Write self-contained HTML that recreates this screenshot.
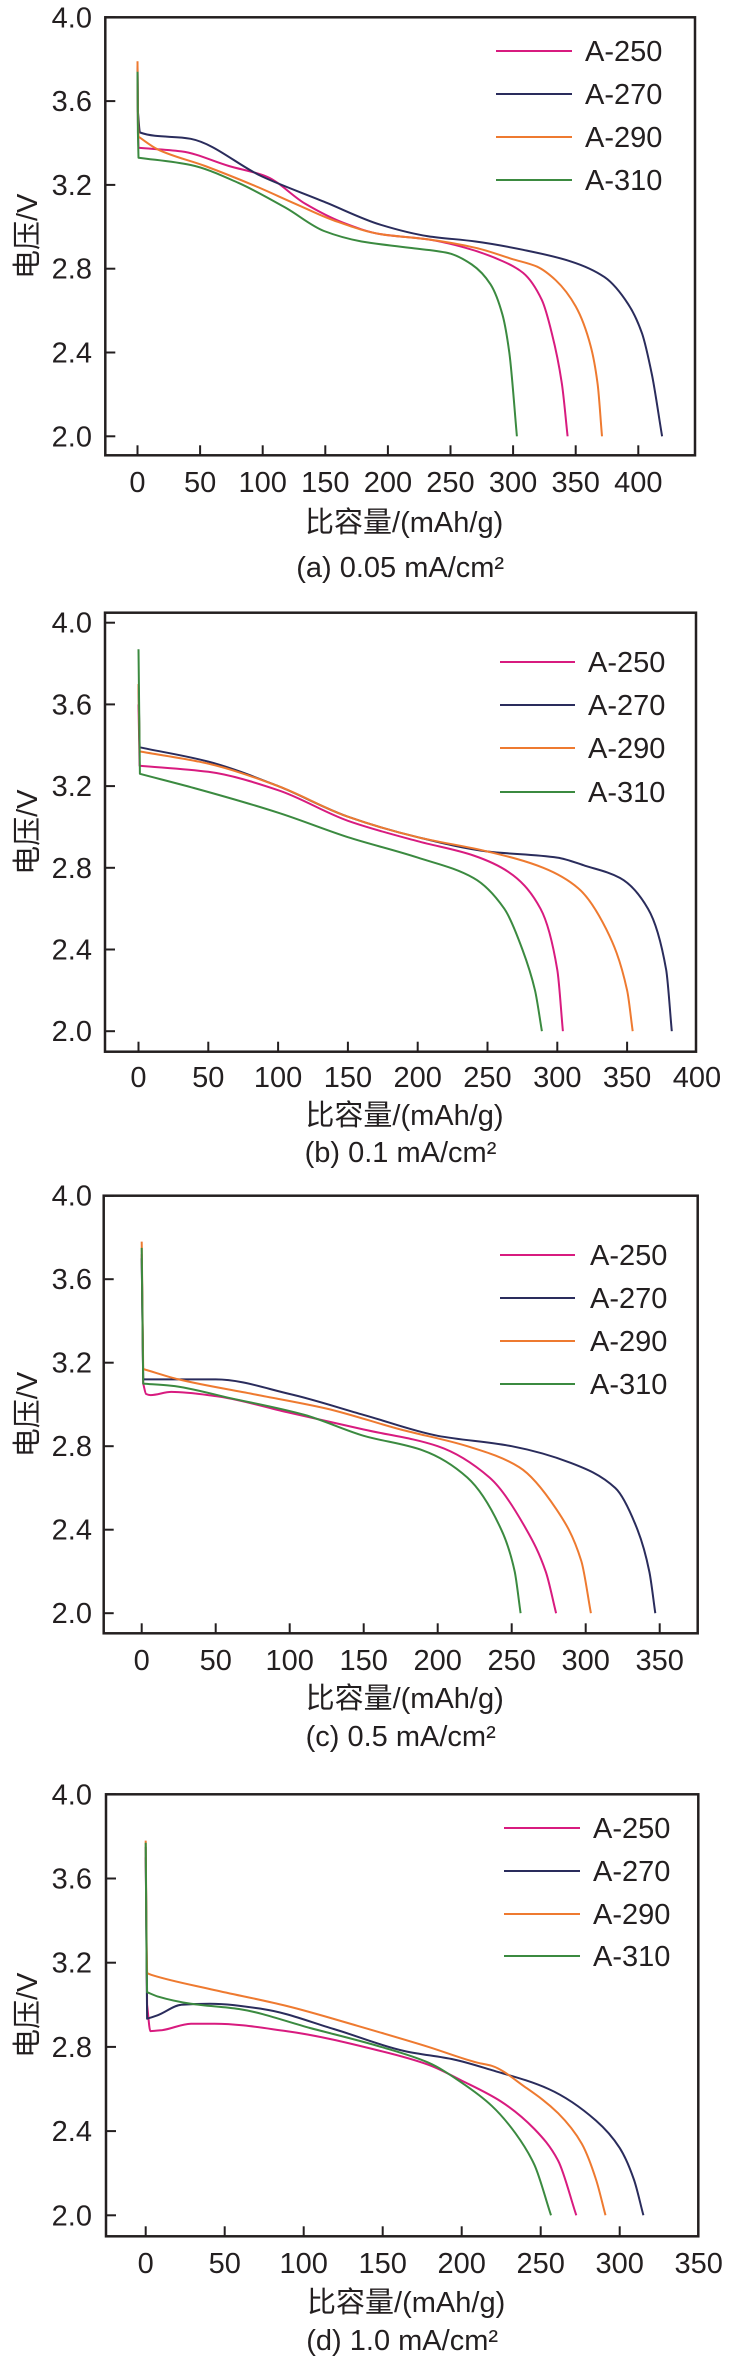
<!DOCTYPE html>
<html><head><meta charset="utf-8"><style>
html,body{margin:0;padding:0;background:#fff;}
svg text{font-family:"Liberation Sans","Noto Sans CJK SC",sans-serif;fill:#231f20;}
</style></head><body>
<svg id="s" width="747" height="2363" xmlns="http://www.w3.org/2000/svg"></svg>
<script>
var C={m:'#d81b7f',n:'#2a2c5c',o:'#ee7a30',g:'#3b8a40'};
var P=[
{L:105.3,R:695,T:17.3,B:455.3,x0:137.5,px50:62.6,y4:17.3,py04:83.8,xt:[0,50,100,150,200,250,300,350,400],xl:[0,50,100,150,200,250,300,350,400],tly:482,xly:522,cy:567,cap:'(a) 0.05 mA/cm²',leg:[51,94,137,180],lx:[496,572,585],
 s:{n:[[0,3.76],[0.3,3.55],[2,3.45],[42.5,3.42],[99.5,3.24],[149,3.12],[194,3.01],[232,2.955],[270,2.93],[308,2.89],[346,2.835],[373,2.76],[392,2.63],[403,2.49],[411,2.29],[419,2.0]],
    m:[[0,3.77],[0.3,3.5],[0.8,3.377],[35,3.36],[73,3.29],[103,3.24],[134,3.11],[164,3.02],[194,2.965],[232,2.94],[262,2.9],[292,2.835],[308,2.78],[323,2.65],[331,2.49],[339,2.25],[343.5,2.0]],
    o:[[0,3.79],[0.3,3.55],[0.8,3.43],[16,3.37],[54,3.29],[92,3.2],[126,3.11],[157,3.03],[194,2.965],[232,2.94],[270,2.9],[300,2.845],[319,2.81],[334,2.745],[350,2.62],[362,2.43],[367.5,2.25],[371,2.0]],
    g:[[0,3.74],[0.3,3.45],[0.8,3.33],[42.5,3.295],[80.5,3.21],[118.5,3.09],[149,2.98],[179,2.93],[217,2.9],[248,2.875],[267,2.82],[282,2.725],[291.5,2.58],[297,2.4],[303,2.0]]}},
{L:105,R:696,T:612.7,B:1051.7,x0:138.5,px50:69.8,y4:622.7,py04:81.7,xt:[0,50,100,150,200,250,300,350],xl:[0,50,100,150,200,250,300,350,400],tly:1077,xly:1115,cy:1152,cap:'(b) 0.1 mA/cm²',leg:[662,705,748,792],lx:[500,575,588],
 s:{n:[[0,3.7],[0.8,3.39],[50,3.32],[100,3.2],[150,3.05],[200,2.95],[250,2.88],[300,2.85],[320,2.81],[345,2.75],[365,2.6],[378,2.3],[382,2.0]],
    o:[[0,3.7],[0.8,3.37],[50,3.31],[100,3.2],[150,3.05],[200,2.95],[250,2.88],[290,2.8],[315,2.7],[335,2.5],[350,2.2],[354,2.0]],
    m:[[0,3.6],[0.8,3.30],[50,3.27],[100,3.18],[150,3.03],[200,2.93],[240,2.86],[265,2.78],[288,2.6],[300,2.3],[304,2.0]],
    g:[[0,3.87],[1,3.26],[40,3.19],[100,3.07],[150,2.95],[200,2.85],[240,2.75],[262,2.6],[275,2.4],[284,2.2],[289,2.0]]}},
{L:103.7,R:697.7,T:1195.7,B:1633.3,x0:141.7,px50:74,y4:1195.7,py04:83.5,xt:[0,50,100,150,200,250,300,350],xl:[0,50,100,150,200,250,300,350],tly:1660,xly:1698,cy:1736,cap:'(c) 0.5 mA/cm²',leg:[1255,1298,1341,1384],lx:[500,575,590],
 s:{n:[[0,3.7],[1,3.12],[50,3.12],[100,3.05],[150,2.95],[200,2.85],[250,2.8],[290,2.72],[320,2.6],[335,2.4],[343,2.2],[347,2.0]],
    o:[[0,3.78],[1,3.17],[25,3.12],[75,3.05],[125,2.98],[175,2.88],[220,2.8],[255,2.7],[280,2.5],[297,2.25],[303.5,2.0]],
    m:[[0,3.72],[1,3.1],[3,3.05],[6,3.045],[20,3.06],[50,3.04],[100,2.96],[150,2.88],[200,2.8],[235,2.65],[260,2.4],[273,2.2],[280,2.0]],
    g:[[0,3.75],[1,3.10],[20,3.09],[60,3.03],[110,2.95],[150,2.85],[190,2.78],[220,2.65],[243,2.4],[252,2.2],[256,2.0]]}},
{L:106,R:698.3,T:1794.3,B:2236.3,x0:145.7,px50:79,y4:1794.3,py04:84.2,xt:[0,50,100,150,200,250,300],xl:[0,50,100,150,200,250,300,350],tly:2263,xly:2302,cy:2340,cap:'(d) 1.0 mA/cm²',leg:[1828,1871,1914,1956],lx:[504,580,593],
 s:{n:[[0,3.75],[0.6,3.2],[0.9,2.934],[7.5,2.95],[22.6,3.0],[40.7,3.005],[74,2.98],[119,2.885],[164,2.78],[195,2.74],[219,2.69],[255,2.6],[285,2.45],[300,2.32],[309,2.17],[315,2.0]],
    m:[[0,3.7],[0.9,3.0],[3,2.875],[10.6,2.88],[28.7,2.91],[43.7,2.91],[89,2.875],[149,2.78],[179,2.715],[200,2.64],[225,2.54],[246,2.41],[261,2.26],[272.5,2.0]],
    o:[[0,3.78],[0.6,3.3],[0.9,3.15],[4.5,3.14],[43.7,3.07],[89,2.995],[134,2.9],[179,2.8],[210,2.725],[219,2.71],[240,2.61],[261,2.485],[276,2.34],[285,2.17],[291,2.0]],
    g:[[0,3.77],[0.6,3.2],[0.9,3.06],[7.5,3.04],[28.7,3.005],[59,2.98],[104,2.89],[149,2.8],[179,2.725],[200,2.63],[219,2.52],[234,2.39],[246,2.24],[256.5,2.0]]}}
];
var h='';
function f(v){return v.toFixed(1)}
function path(raw,X,Y){
 var i=0,d='M'+f(X(raw[0][0]))+' '+f(Y(raw[0][1]));
 while(i<raw.length-1 && raw[i+1][0]<=1.0){i++;d+=' L'+f(X(raw[i][0]))+' '+f(Y(raw[i][1]));}
 var pts=raw.slice(i).map(function(q){return [X(q[0]),Y(q[1])]});
 var n=pts.length,dk=[],m=[];
 for(var k=0;k<n-1;k++)dk.push((pts[k+1][1]-pts[k][1])/(pts[k+1][0]-pts[k][0]));
 m[0]=dk[0];m[n-1]=dk[n-2];
 for(k=1;k<n-1;k++){ if(dk[k-1]*dk[k]<=0)m[k]=0; else { var w1=2*(pts[k+1][0]-pts[k][0])+(pts[k][0]-pts[k-1][0]),w2=(pts[k+1][0]-pts[k][0])+2*(pts[k][0]-pts[k-1][0]); m[k]=(w1+w2)/(w1/dk[k-1]+w2/dk[k]);} }
 for(k=0;k<n-1;k++){var hh=pts[k+1][0]-pts[k][0];
  d+=' C'+f(pts[k][0]+hh/3)+' '+f(pts[k][1]+m[k]*hh/3)+' '+f(pts[k+1][0]-hh/3)+' '+f(pts[k+1][1]-m[k+1]*hh/3)+' '+f(pts[k+1][0])+' '+f(pts[k+1][1]);}
 return d;}
P.forEach(function(p){
 var X=function(c){return p.x0+c/50*p.px50},Y=function(v){return p.y4+(4-v)/0.4*p.py04};
 ['m','n','o','g'].forEach(function(k){
  h+='<path d="'+path(p.s[k],X,Y)+'" fill="none" stroke="'+C[k]+'" stroke-width="2" stroke-linejoin="round"/>';});
 h+='<rect x="'+p.L+'" y="'+p.T+'" width="'+(p.R-p.L)+'" height="'+(p.B-p.T)+'" fill="none" stroke="#231f20" stroke-width="2.5"/>';
 for(var v=0;v<=5;v++){var y=Y(2+v*0.4);
  h+='<line x1="'+p.L+'" x2="'+(p.L+10)+'" y1="'+y+'" y2="'+y+'" stroke="#231f20" stroke-width="2"/>';
  h+='<text x="92" y="'+(y+10)+'" font-size="29" text-anchor="end">'+(2+v*0.4).toFixed(1)+'</text>';}
 p.xt.forEach(function(c){var x=X(c);h+='<line x1="'+x+'" x2="'+x+'" y1="'+(p.B-10)+'" y2="'+p.B+'" stroke="#231f20" stroke-width="2"/>';});
 p.xl.forEach(function(c){h+='<text x="'+X(c)+'" y="'+(p.tly+10)+'" font-size="29" text-anchor="middle">'+c+'</text>';});
 var cx=(p.L+p.R)/2;
 h+='<text x="'+(cx+4)+'" y="'+(p.xly+10)+'" font-size="29" text-anchor="middle">比容量/(mAh/g)</text>';
 h+='<text x="'+cx+'" y="'+(p.cy+10)+'" font-size="29" text-anchor="middle">'+p.cap+'</text>';
 var cyy=(p.T+p.B)/2;
 h+='<text transform="translate(37,'+cyy+') rotate(-90)" font-size="29" text-anchor="middle">电压/V</text>';
 var names=['A-250','A-270','A-290','A-310'],ks=['m','n','o','g'];
 for(var i=0;i<4;i++){var y=p.leg[i];
  h+='<line x1="'+p.lx[0]+'" x2="'+p.lx[1]+'" y1="'+y+'" y2="'+y+'" stroke="'+C[ks[i]]+'" stroke-width="2"/>';
  h+='<text x="'+p.lx[2]+'" y="'+(y+10)+'" font-size="29">'+names[i]+'</text>';}
});
document.getElementById('s').innerHTML=h;
</script>
</body></html>
